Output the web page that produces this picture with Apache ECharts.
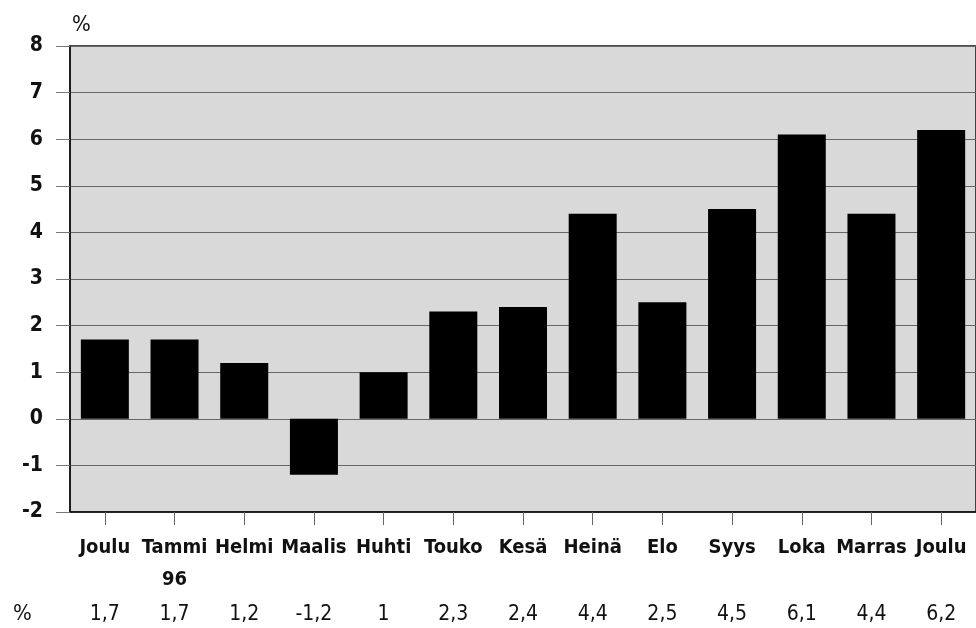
<!DOCTYPE html>
<html>
<head>
<meta charset="utf-8">
<script src="https://cdn.jsdelivr.net/npm/echarts@6/dist/echarts.min.js"></script>
<style>
  html, body { margin: 0; padding: 0; background: #fff; }
  #chart { width: 976px; height: 628px; }
</style>
</head>
<body>
<div id="chart"></div>
<script>
const months = ['Joulu', 'Tammi\n96', 'Helmi', 'Maalis', 'Huhti', 'Touko', 'Kesä', 'Heinä', 'Elo', 'Syys', 'Loka', 'Marras', 'Joulu']
const values = [1.7, 1.7, 1.2, -1.2, 1, 2.3, 2.4, 4.4, 2.5, 4.5, 6.1, 4.4, 6.2]
const valueLabels = ['1,7', '1,7', '1,2', '-1,2', '1', '2,3', '2,4', '4,4', '2,5', '4,5', '6,1', '4,4', '6,2']

const font = "'Liberation Sans Narrow', 'DejaVu Sans Condensed', 'Roboto', sans-serif"

const chart = echarts.init(document.getElementById('chart'))
chart.setOption({
  animation: false,
  grid: {
    left: 70, top: 46, width: 910, height: 466,
    show: true, backgroundColor: '#d9d9d9', borderColor: '#111', borderWidth: 1.5,
  },
  xAxis: [
    {
      type: 'category', data: months,
      axisLine: { onZero: false, lineStyle: { color: '#111', width: 1.5 } },
      axisTick: { show: true, alignWithLabel: true, length: 13, lineStyle: { color: '#666', width: 1 } },
      axisLabel: {
        interval: 0, margin: 20, fontFamily: font, fontWeight: 'bold',
        fontSize: 20, lineHeight: 32, color: '#111',
      },
    },
    {
      type: 'category', data: valueLabels, position: 'bottom', offset: 93,
      axisLine: { show: false }, axisTick: { show: false },
      axisLabel: { interval: 0, margin: 0, fontFamily: font, fontSize: 21, lineHeight: 20, color: '#111' },
    },
  ],
  yAxis: {
    type: 'value', min: -2, max: 8, interval: 1,
    name: '%', nameLocation: 'end', nameGap: 10,
    nameTextStyle: { align: 'left', fontFamily: font, fontSize: 22, color: '#111', padding: [0, 0, 0, 2] },
    axisLine: { show: true, lineStyle: { color: '#111', width: 1.5 } },
    axisTick: { show: true, length: 14, lineStyle: { color: '#777' } },
    splitLine: { lineStyle: { color: '#666', width: 1 } },
    axisLabel: { margin: 27, fontFamily: font, fontWeight: 'bold', fontSize: 21, color: '#111' },
  },
  graphic: [{
    type: 'text', left: 13, top: 603,
    style: { text: '%', fontFamily: font, fontSize: 22, fill: '#111' },
  }],
  series: [{
    type: 'bar', data: values, barWidth: 48,
    itemStyle: { color: '#000' },
  }],
})
</script>
</body>
</html>
